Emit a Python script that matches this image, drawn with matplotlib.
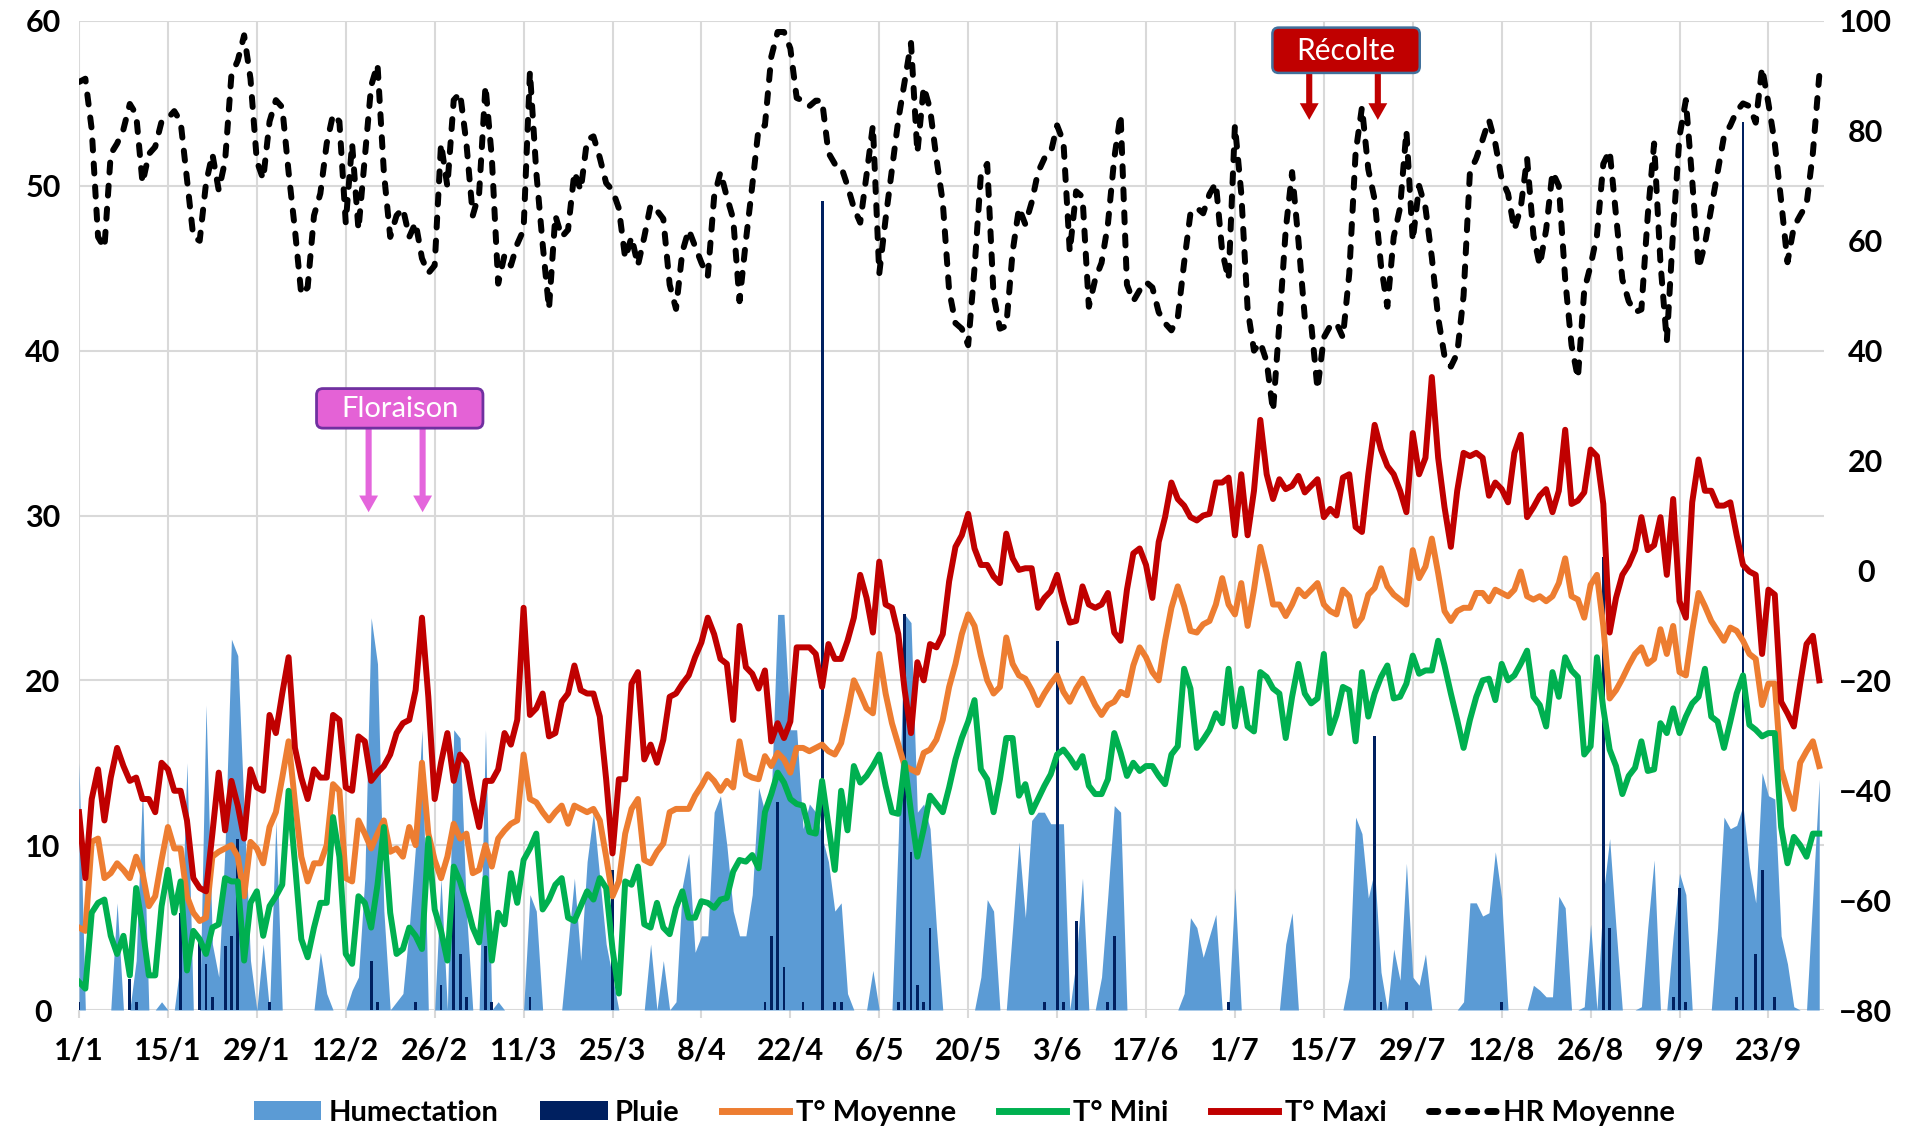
import numpy as np
import matplotlib
matplotlib.use("Agg")
import matplotlib.pyplot as plt
from matplotlib.patches import Patch, FancyBboxPatch
from matplotlib.lines import Line2D

plt.rcParams['font.family'] = ['Lato', 'DejaVu Sans']
plt.rcParams['font.weight'] = 'bold'

# Daily values, 1/1 to 1/10 (leap year), 10 values per row
t_maxi = [
    12.0, 8.0, 12.8, 14.6, 11.5, 14.1, 15.9, 14.8, 13.9, 14.1,
    12.8, 12.8, 12.0, 15.0, 14.6, 13.3, 13.3, 11.5, 8.0, 7.4,
    7.2, 10.7, 14.4, 10.9, 13.9, 12.4, 10.4, 14.6, 13.5, 13.3,
    17.9, 16.8, 19.2, 21.4, 15.9, 14.1, 12.8, 14.6, 14.1, 14.1,
    17.9, 17.6, 13.5, 13.3, 16.6, 16.3, 13.9, 14.4, 14.8, 15.5,
    16.8, 17.4, 17.6, 19.4, 23.8, 19.0, 12.8, 15.0, 16.8, 13.9,
    15.5, 15.0, 12.8, 11.1, 13.9, 13.9, 14.6, 16.8, 16.1, 17.6,
    24.4, 17.9, 18.3, 19.2, 16.6, 16.8, 18.7, 19.2, 20.9, 19.4,
    19.2, 19.2, 17.8, 14.0, 9.5, 14.0, 14.0, 19.8, 20.5, 15.2,
    16.1, 15.0, 16.4, 19.0, 19.2, 19.8, 20.3, 21.4, 22.3, 23.8,
    22.8, 21.3, 21.0, 17.6, 23.3, 20.8, 20.4, 19.5, 20.6, 16.3,
    17.4, 16.5, 17.5, 22.0, 22.0, 22.0, 21.6, 19.6, 22.2, 21.3,
    21.3, 22.4, 23.8, 26.4, 25.0, 22.9, 27.2, 24.6, 24.4, 22.8,
    19.4, 16.8, 21.1, 20.0, 22.2, 22.0, 22.8, 26.0, 28.1, 28.8,
    30.1, 28.0, 27.0, 27.0, 26.3, 25.9, 28.9, 27.4, 26.7, 26.8,
    26.8, 24.4, 25.0, 25.4, 26.4, 24.8, 23.5, 23.6, 25.7, 24.6,
    24.4, 24.6, 25.3, 22.9, 22.4, 25.5, 27.7, 28.0, 27.0, 25.0,
    28.4, 29.9, 32.0, 31.0, 30.6, 29.9, 29.7, 30.0, 30.1, 32.0,
    32.0, 32.3, 28.8, 32.5, 28.8, 31.5, 35.8, 32.5, 31.0, 32.2,
    31.6, 31.8, 32.4, 31.4, 31.8, 32.2, 29.9, 30.4, 30.0, 32.3,
    32.5, 29.3, 29.0, 32.5, 35.5, 34.0, 33.0, 32.5, 31.5, 30.2,
    35.0, 32.5, 33.5, 38.4, 33.5, 30.5, 28.1, 31.5, 33.8, 33.6,
    33.8, 33.5, 31.2, 32.0, 31.6, 30.8, 33.8, 34.9, 29.9, 30.5,
    31.2, 31.6, 30.2, 31.5, 35.2, 30.7, 30.9, 31.4, 34.0, 33.6,
    30.7, 22.9, 25.0, 26.4, 27.0, 27.9, 29.9, 27.9, 28.2, 29.9,
    26.4, 31.0, 24.8, 23.8, 30.8, 33.4, 31.5, 31.5, 30.6, 30.6,
    30.8, 28.8, 27.0, 26.6, 26.4, 21.6, 25.5, 25.2, 18.7, 18.0,
    17.2, 19.8, 22.2, 22.7, 20.0,
]

t_moy = [
    5.0, 4.8, 10.2, 10.4, 8.0, 8.3, 8.9, 8.5, 8.0, 9.3,
    8.3, 6.3, 6.9, 9.1, 11.1, 9.8, 9.8, 6.9, 5.9, 5.4,
    5.6, 9.3, 9.6, 9.8, 10.0, 9.3, 6.9, 10.2, 9.8, 8.9,
    11.1, 12.0, 14.1, 16.3, 12.6, 9.3, 7.8, 8.9, 8.9, 10.0,
    13.7, 13.3, 8.0, 7.8, 11.5, 10.7, 9.8, 10.7, 11.5, 9.6,
    9.8, 9.3, 11.1, 10.0, 15.0, 10.7, 9.1, 8.0, 9.3, 11.3,
    10.4, 10.7, 8.3, 8.5, 10.0, 8.7, 10.4, 10.9, 11.3, 11.5,
    15.5, 12.8, 12.6, 12.0, 11.5, 12.0, 12.4, 11.3, 12.4, 12.2,
    12.0, 12.2, 11.5, 9.3, 6.9, 7.8, 10.7, 12.2, 12.8, 9.1,
    8.9, 9.6, 10.1, 12.0, 12.2, 12.2, 12.2, 13.0, 13.6, 14.3,
    13.9, 13.3, 13.9, 13.5, 16.3, 14.3, 14.1, 14.0, 15.4, 14.8,
    15.6, 15.2, 14.4, 15.9, 15.9, 15.7, 15.9, 16.1, 15.7, 15.5,
    16.2, 18.0, 20.0, 19.2, 18.3, 18.0, 21.6, 19.2, 17.4, 16.1,
    14.8, 14.6, 14.4, 15.6, 15.8, 16.4, 17.6, 19.6, 21.0, 22.8,
    24.0, 23.3, 21.5, 20.0, 19.2, 19.6, 22.6, 21.0, 20.3, 20.1,
    19.4, 18.5, 19.2, 19.8, 20.3, 19.3, 18.7, 19.5, 20.1, 19.3,
    18.5, 17.9, 18.5, 18.7, 19.3, 19.1, 20.9, 22.0, 21.4, 20.5,
    20.0, 22.4, 24.4, 25.7, 24.5, 23.0, 22.9, 23.4, 23.6, 24.6,
    26.2, 24.6, 24.0, 25.9, 23.3, 25.5, 28.1, 26.5, 24.6, 24.6,
    23.9, 24.6, 25.5, 25.1, 25.5, 25.9, 24.6, 24.2, 24.0, 25.5,
    25.1, 23.3, 23.8, 25.2, 25.6, 26.8, 25.7, 25.2, 24.9, 24.6,
    27.9, 26.2, 26.9, 28.6, 26.5, 24.2, 23.6, 24.2, 24.4, 24.4,
    25.3, 25.3, 24.8, 25.5, 25.3, 25.1, 25.5, 26.6, 25.1, 24.9,
    25.1, 24.8, 25.1, 25.9, 27.4, 25.1, 24.9, 23.8, 25.8, 26.4,
    23.3, 18.9, 19.4, 20.1, 20.9, 21.6, 22.0, 21.0, 21.3, 23.1,
    21.6, 23.3, 20.5, 20.3, 23.0, 25.3, 24.5, 23.6, 23.0, 22.4,
    23.2, 23.0, 22.4, 21.6, 21.3, 18.5, 19.8, 19.8, 14.6, 13.3,
    12.2, 15.0, 15.7, 16.3, 14.8,
]

t_mini = [
    1.7, 1.3, 5.9, 6.5, 6.7, 4.5, 3.4, 4.5, 2.1, 7.4,
    5.0, 2.1, 2.1, 6.3, 8.5, 5.9, 7.8, 2.4, 4.8, 4.3,
    3.4, 5.0, 5.2, 8.0, 7.8, 7.8, 3.0, 6.5, 7.2, 4.5,
    6.3, 6.9, 7.6, 13.3, 8.9, 4.3, 3.2, 5.0, 6.5, 6.5,
    11.7, 9.3, 3.4, 2.8, 6.9, 6.5, 5.0, 7.6, 11.1, 5.9,
    3.4, 3.7, 5.0, 4.5, 3.7, 10.4, 6.1, 4.8, 3.0, 8.7,
    7.8, 6.5, 5.0, 4.1, 8.0, 3.0, 5.9, 5.2, 8.3, 6.5,
    9.1, 9.8, 10.7, 6.1, 6.7, 7.6, 8.0, 5.6, 5.4, 6.3,
    7.2, 6.7, 8.0, 7.4, 3.7, 1.0, 7.8, 7.6, 8.7, 5.2,
    5.0, 6.5, 5.0, 4.6, 6.2, 7.2, 5.6, 5.6, 6.6, 6.5,
    6.2, 6.7, 6.8, 8.4, 9.1, 9.0, 9.4, 8.6, 12.0, 13.1,
    14.4, 13.8, 12.8, 12.5, 12.4, 10.8, 10.7, 13.9, 11.2, 8.5,
    13.3, 10.9, 14.8, 13.8, 14.2, 14.8, 15.5, 13.6, 12.0, 11.9,
    15.0, 12.0, 9.3, 11.0, 13.0, 12.5, 12.0, 13.5, 15.2, 16.5,
    17.5, 18.8, 14.6, 14.0, 12.0, 14.0, 16.5, 16.5, 13.0, 13.7,
    12.0, 12.8, 13.6, 14.3, 15.5, 15.8, 15.3, 14.7, 15.4, 13.6,
    13.1, 13.1, 14.0, 16.8, 15.6, 14.2, 15.0, 14.5, 14.8, 14.8,
    14.2, 13.7, 15.5, 16.0, 20.7, 19.5, 15.9, 16.4, 17.0, 18.0,
    17.4, 20.7, 17.2, 19.5, 17.2, 16.9, 20.5, 20.2, 19.5, 19.2,
    16.5, 19.0, 21.0, 19.2, 18.6, 18.9, 21.6, 16.8, 17.9, 19.6,
    19.4, 16.3, 20.5, 17.8, 19.2, 20.2, 20.9, 18.9, 19.0, 19.8,
    21.5, 20.4, 20.6, 20.6, 22.4, 20.9, 19.2, 17.6, 15.9, 17.6,
    19.0, 20.0, 20.1, 18.8, 21.0, 20.0, 20.3, 21.0, 21.8, 19.0,
    18.5, 17.2, 20.5, 19.0, 21.4, 20.6, 20.2, 15.5, 16.0, 21.4,
    18.3, 15.8, 14.8, 13.1, 14.2, 14.7, 16.3, 14.5, 14.6, 17.4,
    16.8, 18.3, 16.8, 17.8, 18.6, 19.0, 20.7, 17.8, 17.5, 15.9,
    17.5, 19.2, 20.3, 17.3, 17.0, 16.6, 16.8, 16.8, 11.1, 8.9,
    10.5, 10.0, 9.3, 10.7, 10.7,
]

hr_moy = [
    88.9, 89.5, 80.3, 60.7, 58.7, 75.8, 77.7, 80.3, 84.9, 83.0,
    70.5, 75.8, 77.1, 81.7, 82.3, 83.6, 81.7, 71.2, 60.7, 60.0,
    70.5, 75.8, 69.2, 74.5, 90.2, 92.8, 97.4, 89.5, 74.5, 71.2,
    81.7, 85.6, 84.3, 72.5, 62.0, 50.2, 51.5, 64.6, 68.6, 77.7,
    83.0, 81.7, 63.3, 77.7, 62.0, 75.0, 88.2, 92.1, 72.5, 60.7,
    64.6, 65.9, 60.7, 63.3, 56.8, 54.1, 55.5, 77.7, 69.9, 85.6,
    86.9, 77.7, 64.6, 68.6, 88.2, 75.1, 52.2, 57.4, 55.5, 59.4,
    62.0, 90.8, 72.5, 59.4, 47.6, 64.6, 60.7, 62.0, 72.5, 69.2,
    78.4, 79.0, 75.1, 70.5, 69.2, 65.9, 56.8, 60.7, 55.5, 60.7,
    66.5, 65.5, 64.0, 52.0, 47.6, 58.0, 62.0, 59.0, 56.0, 53.5,
    68.0, 72.5, 68.0, 64.0, 49.0, 60.0, 70.0, 80.5, 81.0, 93.5,
    98.0, 98.0, 95.0, 86.0, 85.5, 84.5, 85.5, 85.5, 76.0, 74.0,
    73.5, 70.0, 66.0, 63.3, 72.0, 81.0, 54.0, 64.0, 73.0, 82.0,
    89.0, 96.0, 76.0, 88.0, 84.0, 75.0, 67.0, 51.0, 45.0, 44.0,
    41.0, 55.0, 72.0, 74.0, 50.0, 44.0, 44.5, 58.0, 66.0, 63.0,
    67.0, 72.5, 75.0, 76.0, 81.0, 78.0, 58.0, 69.0, 68.0, 48.0,
    53.0, 56.0, 63.0, 75.0, 83.0, 52.0, 49.0, 51.0, 52.5, 51.5,
    47.0, 45.0, 43.7, 46.0, 56.0, 65.0, 66.0, 65.0, 68.5, 70.5,
    58.0, 53.0, 81.0, 68.6, 47.6, 40.0, 41.5, 38.0, 29.0, 45.0,
    62.0, 72.5, 60.0, 46.0, 45.0, 33.0, 42.4, 44.5, 45.0, 42.4,
    54.0, 76.0, 84.3, 73.0, 67.5, 55.5, 48.0, 60.7, 66.0, 80.0,
    60.0, 70.0, 66.0, 57.0, 46.0, 39.0, 37.1, 39.5, 50.0, 72.5,
    75.0, 78.4, 82.0, 77.7, 71.2, 68.6, 62.0, 66.0, 75.0, 61.0,
    55.5, 62.0, 72.5, 70.0, 53.0, 41.0, 35.0, 51.0, 55.5, 61.0,
    74.0, 76.4, 64.6, 53.0, 49.0, 47.0, 47.5, 64.6, 77.7, 56.0,
    41.7, 62.0, 79.0, 85.6, 71.0, 55.0, 59.4, 66.0, 72.5, 79.0,
    81.0, 83.6, 85.0, 84.5, 81.5, 91.5, 85.0, 77.7, 67.3, 56.1,
    62.5, 64.6, 66.6, 76.0, 90.0,
]

humectation = [
    15, 0, 0, 0, 0, 0, 6.5, 0, 0, 3,
    13.5, 0, 0, 0.5, 0, 0, 3, 15, 0, 0,
    18.5, 4, 2, 10, 22.5, 21.5, 12, 3, 0, 4,
    0, 11.5, 0, 0, 0, 0, 0, 0, 3.5, 1,
    0, 0, 0, 1.2, 2, 8, 23.8, 21, 6, 0,
    0.5, 1, 5, 10, 17, 0, 0, 8, 0, 17,
    16.5, 6, 0, 0, 17, 0, 0.5, 0, 0, 0,
    0, 7, 6, 0, 0, 0, 0, 4, 8, 3,
    9, 12, 8, 4, 2, 0, 0, 0, 0, 0,
    4, 0, 3, 0, 0.5, 7.5, 9.5, 3.5, 4.5, 4.5,
    12, 13, 10, 6, 4.5, 4.5, 7, 13.5, 12, 13,
    24, 24, 17, 17, 11, 12.5, 12, 10.5, 9, 6,
    6.5, 1, 0, 0, 0, 2.4, 0, 0, 0, 10.5,
    24, 23.5, 12, 12.5, 11, 5, 0, 0, 0, 0,
    0, 0, 2, 6.7, 6, 0, 0, 5, 10.2, 5.6,
    11.5, 12, 12, 11.3, 11.3, 11.3, 0, 3, 8, 0,
    0, 2, 7, 12.4, 12, 0, 0, 0, 0, 0,
    0, 0, 0, 0, 1, 5.6, 5, 3.2, 4.5, 5.8,
    0, 0, 7.4, 0, 0, 0, 0, 0, 0, 0,
    4, 5.9, 0, 0, 0, 0, 0, 0, 0, 0,
    2, 11.7, 10.7, 6.8, 8.5, 2.3, 0, 3.7, 1.8, 8.9,
    2, 1.5, 3.4, 0, 0, 0, 0, 0, 0.5, 6.5,
    6.5, 5.7, 5.9, 9.6, 6.8, 0, 0, 0, 0, 1.5,
    1.2, 0.8, 0.8, 6.9, 6.2, 0, 0, 0.2, 5.2, 0,
    7, 10.4, 5, 0, 0, 0, 0.2, 5, 9.1, 0,
    0, 4.5, 8.3, 7, 0, 0, 0, 0, 5, 11.7,
    11, 11.2, 12.4, 8.7, 6.5, 14.4, 13, 12.8, 4.5, 2.8,
    0.2, 0, 0, 7, 14,
]

# rain: day index (0 = 1/1) and mm
pluie_jour = [0, 8, 9, 16, 19, 20, 21, 23, 24, 25,
              30, 46, 47, 53, 57, 59, 60, 61, 64, 65,
              71, 84, 108, 109, 110, 111, 114, 117, 119, 120,
              129, 130, 131, 132, 133, 134, 152, 154, 155, 157,
              162, 163, 181, 204, 205, 209, 224, 240, 241, 251,
              252, 253, 261, 262, 264, 265, 267]
pluie_mm = [0.5, 1.9, 0.5, 5.9, 4.1, 2.8, 0.8, 3.9, 4.5, 10.4,
            0.5, 3.0, 0.5, 0.5, 1.5, 7.4, 3.4, 0.8, 3.9, 0.5,
            0.8, 8.5, 0.5, 4.5, 12.6, 2.6, 0.5, 49.1, 0.5, 0.5,
            0.5, 24.0, 9.6, 1.5, 0.5, 5.0, 0.5, 22.4, 0.5, 5.4,
            0.5, 4.5, 0.5, 16.6, 0.5, 0.5, 0.5, 27.5, 5.0, 0.8,
            7.4, 0.5, 0.8, 53.9, 3.4, 8.5, 0.8]

tick_pos = list(range(0, 267, 14))
tick_labels = ['1/1', '15/1', '29/1', '12/2', '26/2', '11/3', '25/3', '8/4',
               '22/4', '6/5', '20/5', '3/6', '17/6', '1/7', '15/7', '29/7',
               '12/8', '26/8', '9/9', '23/9']

# stage markers (day index)
floraison_jours = [45.6, 54.1]
recolte_jours = [193.7, 204.5]

jours = np.arange(len(t_maxi))

W, H = 1907, 1128
fig = plt.figure(figsize=(W / 100, H / 100), dpi=100)
ax_l, ax_r, ax_b, ax_t = 79, 1824, 1010, 21
ax = fig.add_axes([ax_l / W, 1 - ax_b / H, (ax_r - ax_l) / W, (ax_b - ax_t) / H])

LW = 4.3
ax.fill_between(jours, 0, humectation, color='#5B9BD5', lw=0, zorder=2)
ax.bar(pluie_jour, pluie_mm, width=0.45, color='#002060', zorder=3)
ax.plot(jours, t_moy, color='#ED7D31', lw=LW, zorder=4, solid_joinstyle='round')
ax.plot(jours, t_mini, color='#00B050', lw=LW, zorder=5, solid_joinstyle='round')
ax.plot(jours, t_maxi, color='#C00000', lw=LW, zorder=6, solid_joinstyle='round')

ax.set_xlim(0, 274.75)
ax.set_ylim(0, 60)
ax.set_yticks(range(0, 61, 10))
ax.set_xticks(tick_pos)
ax.set_xticklabels(tick_labels)
ax.grid(True, color='#D9D9D9', lw=1.5)
ax.set_axisbelow(True)
for s in ax.spines.values():
    s.set_visible(False)
ax.tick_params(axis='x', length=6, width=1.5, color='#D9D9D9', pad=13, labelsize=22)
ax.tick_params(axis='y', length=0, pad=26, labelsize=22)
for lab in ax.get_yticklabels():
    lab.set_horizontalalignment('center')

ax2 = ax.twinx()
ax2.plot(jours, hr_moy, color='black', lw=LW, dashes=(1.67, 2.2),
         dash_capstyle='round', zorder=7)
ax2.set_ylim(-80, 100)
ax2.set_yticks(range(-80, 101, 20))
for s in ax2.spines.values():
    s.set_visible(False)
ax2.tick_params(axis='y', length=0, pad=30, labelsize=22)
for lab in ax2.get_yticklabels():
    lab.set_horizontalalignment('center')

# aspect so rounded corners look round in pixels
px_x = (ax_r - ax_l) / 274.75
px_y = (ax_b - ax_t) / 60
aspect = px_x / px_y


def etiquette(x0, x1, y0, y1, texte, fond, bord, lw, taille):
    ax2.add_patch(FancyBboxPatch((x0, y0), x1 - x0, y1 - y0,
                                 boxstyle='round,pad=0,rounding_size=1.0',
                                 mutation_aspect=aspect, fc=fond, ec=bord, lw=lw,
                                 transform=ax.transData, zorder=10))
    ax2.text((x0 + x1) / 2, (y0 + y1) / 2 - 0.05, texte, transform=ax.transData,
             color='white', ha='center', va='center', fontsize=taille,
             fontweight='normal', zorder=11)


def fleche(x, y0, y1, couleur):
    ax2.annotate('', xy=(x, y1), xytext=(x, y0), xycoords=ax.transData,
                 textcoords=ax.transData,
                 arrowprops=dict(arrowstyle='simple,head_length=0.6,head_width=0.68,tail_width=0.22',
                                 fc=couleur, ec='none', shrinkA=0, shrinkB=0,
                                 mutation_scale=20), zorder=9)


etiquette(37.4, 63.6, 35.3, 37.7, 'Floraison', '#E462D6', '#7030A0', 2, 21)
for x in floraison_jours:
    fleche(x, 35.3, 30.2, '#E466DC')

etiquette(187.9, 211.1, 56.85, 59.6, 'Récolte', '#C00000', '#41719C', 1.8, 21.5)
for x in recolte_jours:
    fleche(x, 56.85, 54.0, '#C00000')

handles = [Patch(fc='#5B9BD5'), Patch(fc='#002060'),
           Line2D([], [], color='#ED7D31', lw=5),
           Line2D([], [], color='#00B050', lw=5),
           Line2D([], [], color='#C00000', lw=5),
           Line2D([], [], color='black', lw=5, dashes=(1.2, 1.6), dash_capstyle='round')]
labels = ['Humectation', 'Pluie', 'T° Moyenne', 'T° Mini', 'T° Maxi', 'HR Moyenne']
fig.legend(handles, labels, loc='center', bbox_to_anchor=(0.5058, 1 - 1113 / H),
           ncol=6, frameon=False, fontsize=21, handlelength=2.3, handleheight=0.6,
           handletextpad=0.25, columnspacing=1.45)

fig.savefig('out.png', dpi=100)
